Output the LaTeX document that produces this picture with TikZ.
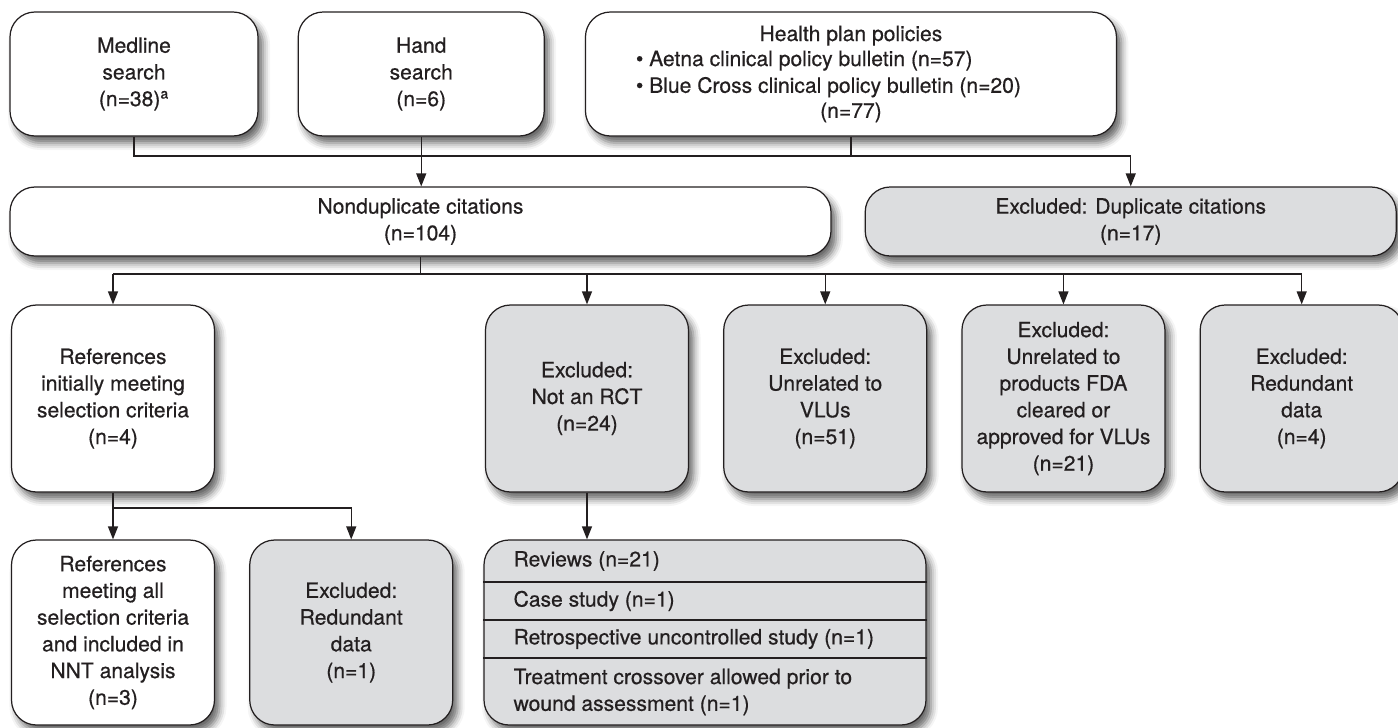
\documentclass[tikz,border=0pt]{standalone}
\usepackage{fontspec}
\setmainfont{TeX Gyre Heros}[BoldFont={TeX Gyre Heros}, BoldFeatures={FakeBold=0.5}]
\usepackage{tikz}
\usetikzlibrary{positioning,arrows.meta,shadows.blur}
\usepackage{xcolor}
\definecolor{ink}{HTML}{231F20}
\definecolor{panel}{HTML}{DCDDDF}

\begin{document}
\begin{tikzpicture}[>={Triangle[length=2.6mm,width=2mm]}, color=ink, line width=0.7pt,
    font=\fontsize{12}{15.2}\selectfont\bfseries,
    box/.style={draw=ink, fill=white, rounded corners=0.5cm, align=center, inner sep=2pt,
      blur shadow={shadow xshift=0.1cm, shadow yshift=-0.14cm, shadow blur radius=0.14cm, shadow opacity=60}},
    exbox/.style={box, fill=panel},
    sbox/.style={minimum width=4.06cm, minimum height=3.74cm}]
    \useasboundingbox (0,0) rectangle (27.96,-14.54);
    % sources
    \node[box, minimum width=4.96cm, minimum height=2.48cm] (med) at (2.68,-1.48)
         {Medline\\ search\\ (n=38)\textsuperscript{a}};
    \node[box, minimum width=4.92cm, minimum height=2.48cm, right=0.78cm of med] (hand)
         {Hand\\ search\\ (n=6)};
    \node[box, minimum width=10.62cm, minimum height=2.48cm, right=0.8cm of hand] (plans)
         {Health plan policies\\
          \hspace*{-0.9cm}\begin{tabular}{@{}l@{}}\textbullet\ Aetna clinical policy bulletin (n=57)\\
           \textbullet\ Blue Cross clinical policy bulletin (n=20)\end{tabular}\\
          (n=77)};
    % citations
    \node[box, minimum width=16.42cm, minimum height=1.38cm] (nondup) at (8.41,-4.43)
         {Nonduplicate citations\\ (n=104)};
    \node[exbox, minimum width=10.62cm, minimum height=1.38cm, right=0.66cm of nondup] (dup)
         {Excluded: Duplicate citations\\ (n=17)};
    % screening
    \node[box, sbox] (refs) at (2.26,-7.97)
         {References\\ initially meeting\\ selection criteria\\ (n=4)};
    \node[exbox, sbox] (nonrct) at (11.74,-7.97)
         {Excluded:\\ Not an RCT\\ (n=24)};
    \node[exbox, sbox, right=0.68cm of nonrct] (novlu)
         {Excluded:\\ Unrelated to\\ VLUs\\ (n=51)};
    \node[exbox, sbox, right=0.68cm of novlu] (nofda)
         {Excluded:\\ Unrelated to\\ products FDA\\ cleared or\\ approved for VLUs\\ (n=21)};
    \node[exbox, sbox, right=0.68cm of nofda] (redund)
         {Excluded:\\ Redundant\\ data\\ (n=4)};
    % final
    \node[box, sbox, minimum height=3.7cm] (refsall) at (2.26,-12.65)
         {References\\ meeting all\\ selection criteria\\ and included in\\ NNT analysis\\ (n=3)};
    \node[exbox, sbox, minimum height=3.7cm, right=0.68cm of refsall] (redundb)
         {Excluded:\\ Redundant\\ data\\ (n=1)};
    \node[exbox, minimum width=8.84cm, minimum height=3.7cm] (cats) at (14.10,-12.65) {};
    \draw (cats.west |- 0,-11.64) -- (cats.east |- 0,-11.64);
    \draw (cats.west |- 0,-12.40) -- (cats.east |- 0,-12.40);
    \draw (cats.west |- 0,-13.16) -- (cats.east |- 0,-13.16);
    \node[anchor=west, inner sep=0pt] (rev) at (10.26,-11.22) {Reviews (n=21)};
    \node[anchor=west, inner sep=0pt] (case) at (10.26,-12.02) {Case study (n=1)};
    \node[anchor=west, inner sep=0pt] (retro) at (10.26,-12.78) {Retrospective uncontrolled study (n=1)};
    \node[anchor=west, inner sep=0pt, align=left] (cross) at (10.26,-13.84)
         {Treatment crossover allowed prior to\\ wound assessment (n=1)};
    % connectors
    \coordinate (top) at (0,-3.12);
    \coordinate (mid) at (0,-5.48);
    \coordinate (low) at (0,-10.16);
    \draw[->] (med.south) -- (med.south |- top) -| (dup.north);
    \draw (plans.south) -- (plans.south |- top);
    \draw[->] (hand.south) -- (hand.south |- nondup.north);
    \draw (nondup.south) -- (nondup.south |- mid);
    \draw (refs.north |- mid) -- (redund.north |- mid);
    \draw[->] (refs.north |- mid) -- (refs.north);
    \draw[->] (nonrct.north |- mid) -- (nonrct.north);
    \draw[->] (novlu.north |- mid) -- (novlu.north);
    \draw[->] (nofda.north |- mid) -- (nofda.north);
    \draw[->] (redund.north |- mid) -- (redund.north);
    \draw[->] (refs.south) -- (refsall.north);
    \draw[->] (refs.south |- low) -| (redundb.north);
    \draw[->] (nonrct.south) -- (nonrct.south |- cats.north);
  \end{tikzpicture}
\end{document}
